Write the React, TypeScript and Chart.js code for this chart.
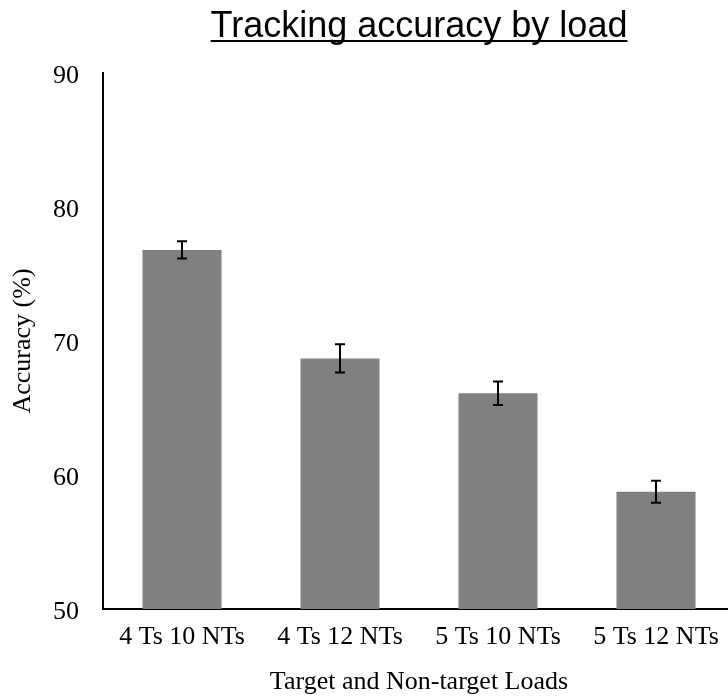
import React, { useEffect, useRef } from "react";
import { Chart, registerables } from "chart.js";

Chart.register(...registerables);

const categories = ["4 Ts 10 NTs", "4 Ts 12 NTs", "5 Ts 10 NTs", "5 Ts 12 NTs"];
const accuracy = [76.8, 68.7, 66.1, 58.75];
const errors = [0.65, 1.05, 0.88, 0.83];
const yTicks = [50, 60, 70, 80, 90];
const chartTitle = "Tracking accuracy by load";
const xTitle = "Target and Non-target Loads";
const yTitle = "Accuracy (%)";

const SERIF = "'Liberation Serif', 'Times New Roman', serif";
const SANS = "'Liberation Sans', Arial, sans-serif";

const errorBarPlugin = {
  id: "errorBars",
  afterDatasetsDraw(chart: any) {
    const ctx = chart.ctx;
    const meta = chart.getDatasetMeta(0);
    const y = chart.scales.y;
    ctx.save();
    ctx.strokeStyle = "#000";
    ctx.lineWidth = 2;
    meta.data.forEach((bar: any, i: number) => {
      const x = bar.x;
      const top = y.getPixelForValue(accuracy[i] + errors[i]);
      const bot = y.getPixelForValue(accuracy[i] - errors[i]);
      ctx.beginPath();
      ctx.moveTo(x, top);
      ctx.lineTo(x, bot);
      ctx.moveTo(x - 5, top);
      ctx.lineTo(x + 5, top);
      ctx.moveTo(x - 5, bot);
      ctx.lineTo(x + 5, bot);
      ctx.stroke();
    });
    ctx.restore();
  },
};

const titlePlugin = {
  id: "underlinedTitle",
  afterDraw(chart: any) {
    const ctx = chart.ctx;
    const area = chart.chartArea;
    const cx = (area.left + area.right) / 2;
    ctx.save();
    ctx.font = `36px ${SANS}`;
    ctx.fillStyle = "#000";
    ctx.textAlign = "center";
    ctx.textBaseline = "alphabetic";
    const baseline = 37;
    ctx.fillText(chartTitle, cx, baseline);
    const w = ctx.measureText(chartTitle).width;
    ctx.fillRect(cx - w / 2, baseline + 3, w, 2);
    ctx.restore();
  },
};

export default function App() {
  const ref = useRef<HTMLCanvasElement>(null);
  useEffect(() => {
    if (!ref.current) return;
    const chart = new Chart(ref.current, {
      type: "bar",
      data: {
        labels: categories,
        datasets: [
          {
            data: accuracy,
            backgroundColor: "#808080",
            borderWidth: 0,
            barPercentage: 0.5,
            categoryPercentage: 1.0,
          },
        ],
      },
      options: {
        animation: false,
        responsive: false,
        maintainAspectRatio: false,
        layout: { padding: { left: 0, right: 25, top: 73, bottom: 0 } },
        plugins: {
          legend: { display: false },
          tooltip: { enabled: false },
          title: { display: false },
        },
        scales: {
          x: {
            grid: { display: false, drawTicks: false },
            border: { display: true, color: "#000", width: 2 },
            ticks: {
              color: "#000",
              font: { family: SERIF, size: 26 },
              padding: 13,
              maxRotation: 0,
              autoSkip: false,
            },
            title: {
              display: true,
              text: xTitle,
              color: "#000",
              font: { family: SERIF, size: 26 },
              padding: { top: 0, bottom: 0 },
            },
            afterFit(scale: any) {
              scale.height = 89;
            },
          },
          y: {
            min: 50,
            max: 90,
            afterBuildTicks(scale: any) {
              scale.ticks = yTicks.map((v) => ({ value: v }));
            },
            grid: { display: false, drawTicks: false },
            border: { display: true, color: "#000", width: 2 },
            ticks: {
              color: "#000",
              font: { family: SERIF, size: 26 },
              padding: 24,
              labelOffset: 3,
            },
            title: {
              display: true,
              text: yTitle,
              color: "#000",
              font: { family: SERIF, size: 26 },
              padding: { top: 8, bottom: 0 },
            },
            afterFit(scale: any) {
              scale.width = 103;
            },
          },
        },
      },
      plugins: [errorBarPlugin, titlePlugin],
    });
    return () => chart.destroy();
  }, []);
  return (
    <div
      style={{
        position: "fixed",
        left: 0,
        top: 0,
        width: 728,
        height: 698,
        overflow: "hidden",
        background: "#fff",
      }}
    >
      <canvas ref={ref} width={760} height={698} style={{ display: "block" }} />
    </div>
  );
}
